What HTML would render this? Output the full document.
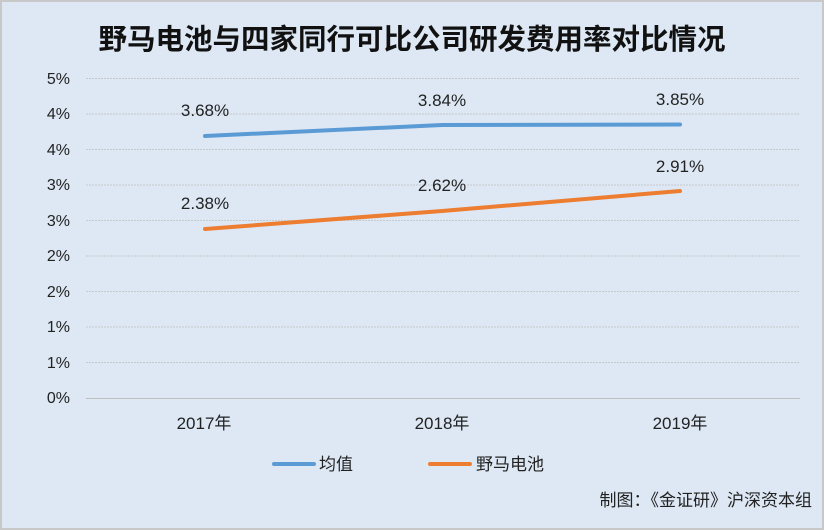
<!DOCTYPE html>
<html><head><meta charset="utf-8"><style>
body{margin:0;width:824px;height:530px;overflow:hidden;background:#dde8f4;}
svg{display:block}
text{font-family:"Liberation Sans","Noto Sans CJK SC",sans-serif;fill:#222;}
</style></head><body>
<svg width="824" height="530" viewBox="0 0 824 530">
<rect x="1" y="1" width="822" height="528" fill="#dde8f4" stroke="#c8c8c8" stroke-width="2"/>
<text x="412" y="49" text-anchor="middle" font-size="28.5" font-weight="bold" style="fill:#111">野马电池与四家同行可比公司研发费用率对比情况</text>
<g stroke="#c6c9cc" stroke-width="1" stroke-dasharray="2,1">
<line x1="86" x2="800" y1="78.5" y2="78.5"/><line x1="86" x2="800" y1="114" y2="114"/>
<line x1="86" x2="800" y1="149.5" y2="149.5"/><line x1="86" x2="800" y1="185" y2="185"/>
<line x1="86" x2="800" y1="220.5" y2="220.5"/><line x1="86" x2="800" y1="256" y2="256"/>
<line x1="86" x2="800" y1="291.5" y2="291.5"/><line x1="86" x2="800" y1="327" y2="327"/>
<line x1="86" x2="800" y1="362.5" y2="362.5"/>
</g>
<line x1="86" x2="800" y1="398.5" y2="398.5" stroke="#bfbfbf"/>
<g font-size="16" text-anchor="end">
<text x="70" y="84">5%</text><text x="70" y="119">4%</text><text x="70" y="155">4%</text>
<text x="70" y="190">3%</text><text x="70" y="226">3%</text><text x="70" y="261">2%</text>
<text x="70" y="297">2%</text><text x="70" y="332">1%</text><text x="70" y="368">1%</text>
<text x="70" y="403">0%</text>
</g>
<g font-size="17" text-anchor="middle">
<text x="204" y="429">2017年</text><text x="442" y="429">2018年</text><text x="680" y="429">2019年</text>
</g>
<polyline points="205,136 442,125 680,124.5" fill="none" stroke="#5b9bd5" stroke-width="4" stroke-linecap="round"/>
<polyline points="205,229 442,211 680,191" fill="none" stroke="#ed7d31" stroke-width="4" stroke-linecap="round"/>
<g font-size="17" text-anchor="middle">
<text x="205" y="116">3.68%</text><text x="442" y="106">3.84%</text><text x="680" y="105">3.85%</text>
<text x="205" y="209">2.38%</text><text x="442" y="191">2.62%</text><text x="680" y="172">2.91%</text>
</g>
<line x1="274" x2="314" y1="464" y2="464" stroke="#5b9bd5" stroke-width="4" stroke-linecap="round"/>
<text x="319" y="470" font-size="17">均值</text>
<line x1="430" x2="470" y1="464" y2="464" stroke="#ed7d31" stroke-width="4" stroke-linecap="round"/>
<text x="476" y="470" font-size="17">野马电池</text>
<text x="812" y="506" font-size="17" text-anchor="end">制图：《金证研》沪深资本组</text>
</svg>
</body></html>
